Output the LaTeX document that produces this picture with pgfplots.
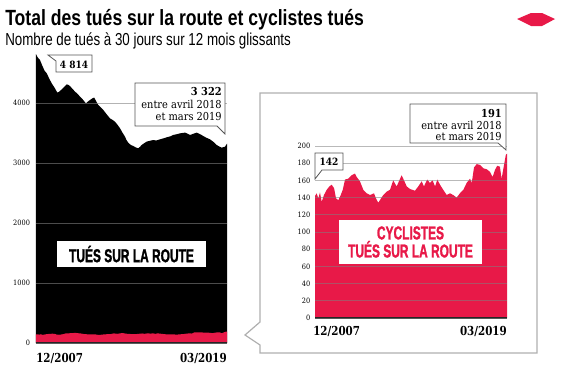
\documentclass[border=0pt]{standalone}
\usepackage{fontspec}
\usepackage{pgfplots}
\pgfplotsset{compat=1.18}
\usepackage{pgfplotstable}
\setmainfont{Liberation Sans}
\newfontfamily\titlefont[FakeStretch=0.80]{Liberation Sans}
\newfontfamily\subfont[FakeStretch=0.77]{Liberation Sans}
\newfontfamily\labfont[FakeStretch=0.64,FakeBold=1.2]{Liberation Sans}
\newfontfamily\serifA[FakeStretch=0.90]{DejaVu Serif}
\newfontfamily\serifB[FakeStretch=0.83]{DejaVu Serif}
\definecolor{lmred}{RGB}{232,25,72}
\definecolor{boxgray}{RGB}{85,85,85}
\definecolor{framegray}{RGB}{175,175,175}

\pgfplotstableread{
m v
0 4814
1.2 4760
2.8 4717
4.5 4620
6 4540
7.6 4494
9.5 4400
11.1 4328
13 4260
15.1 4172
16.5 4190
18.2 4228
20 4270
21.7 4311
23 4300
24 4283
26 4230
27.6 4189
29.5 4150
31.1 4106
33 4060
35.3 3994
37 4030
38.2 4050
40 4080
41.2 4089
42.5 4030
44 3967
46 3920
47.6 3883
50 3810
52.3 3744
54 3720
55.8 3689
57.5 3640
59.4 3578
61 3510
62.9 3439
64 3380
65.2 3339
67 3300
68.8 3283
70.5 3260
72.3 3244
73.5 3270
74.7 3300
76.5 3330
78.2 3356
80.5 3370
82.9 3383
85 3375
87.6 3394
90 3410
92.4 3428
95 3445
97 3467
99.5 3480
101.8 3494
103.5 3500
105.3 3506
107 3490
108.8 3467
111 3485
113.6 3506
116 3480
118.2 3450
120.5 3420
123 3394
125.5 3350
127.7 3300
129.5 3275
131.3 3256
133.6 3272
135 3322
}\totaldata

\pgfplotstableread{
m v
0 142
1.2 145
2.3 139
3.5 146
4.7 135
6.3 143
8.2 149
10.1 153
11.7 155
13.4 151
14.8 139
16.4 137
18.1 143
19.5 149
21.1 161
23.4 162
25.8 166
28.1 168
29.3 164
31.6 159
34 149
36.3 145
38.7 143
41.5 145
42.9 139
44.5 134
46.4 139
48 143
50.4 147
52.7 149
55 160
57.4 153
59.3 160
60.9 166
62.6 160
64.5 153
66.8 150
70.3 148
72.6 153
75 159
76.6 153
78.9 161
80.8 157
82.7 160
84.4 153
86 161
87.9 155
90.2 149
92.6 143
94.9 145
97.2 143
99.6 140
101.9 145
104.3 149
106.6 157
109 162
110.2 157
111.8 175
113.7 179
116 178
118.4 174
120.7 173
123 170
124.9 164
126.5 172
128.1 177
130 176
131.2 162
132.8 177
134.2 190
135 191
}\cycldata

\begin{document}
\begin{tikzpicture}[x=0.75pt,y=0.75pt]
\path[use as bounding box] (0,0) rectangle (564,376);

% Title
\node[anchor=base west, inner sep=0] at (5,350) {\titlefont\bfseries\fontsize{16.5}{18}\selectfont Total des tués sur la route et cyclistes tués};
\node[anchor=base west, inner sep=0] at (5,330) {\subfont\fontsize{13}{14}\selectfont Nombre de tués à 30 jours sur 12 mois glissants};
% logo
\fill[lmred] (517,357) -- (531,363) -- (542,363) -- (555,357) -- (542,350) -- (531,350) -- cycle;

% Left chart
\begin{axis}[
  at={(27pt,24.75pt)}, anchor=south west, scale only axis,
  width=143.25pt, height=218.25pt,
  xmin=0, xmax=135, ymin=0, ymax=4850,
  axis line style={draw=none}, major tick length=0pt,
  xtick=\empty, ytick={0,1000,2000,3000,4000},
  ymajorgrids, grid style={draw=gray, line width=0.5pt, opacity=0.6},
  axis on top,
  /pgf/number format/assume math mode=true,
  /pgf/number format/1000 sep={},
  yticklabel style={font=\serifA\fontsize{5.5}{6}\selectfont, xshift=-1pt},
]
\addplot[fill=black, draw=none] table[x=m,y=v] {\totaldata} \closedcycle;
\addplot[fill=lmred, draw=none] table[x=m,y=v] {\cycldata} \closedcycle;
\draw[line width=0.8pt, black!85] (axis cs:0,0) -- (axis cs:135,0);
\end{axis}

% Right chart
\begin{axis}[
  at={(236.25pt,43.5pt)}, anchor=south west, scale only axis,
  width=144pt, height=129pt,
  xmin=0, xmax=135, ymin=0, ymax=200,
  axis line style={draw=none}, major tick length=0pt,
  xtick=\empty, ytick={0,20,...,200},
  ymajorgrids, grid style={draw=gray, line width=0.5pt, opacity=0.55},
  axis on top,
  /pgf/number format/assume math mode=true,
  yticklabel style={font=\serifA\fontsize{5.5}{6}\selectfont},
]
\addplot[fill=lmred, draw=none] table[x=m,y=v] {\cycldata} \closedcycle;
\draw[line width=0.8pt, black!85] (axis cs:0,0) -- (axis cs:135,0);
\end{axis}

% x labels
\node[anchor=base west, inner sep=0] at (36,14) {\serifB\bfseries\fontsize{9.3}{10}\selectfont 12/2007};
\node[anchor=base east, inner sep=0] at (227,14) {\serifB\bfseries\fontsize{9.3}{10}\selectfont 03/2019};
\node[anchor=base west, inner sep=0] at (313,41) {\serifB\bfseries\fontsize{9.3}{10}\selectfont 12/2007};
\node[anchor=base east, inner sep=0] at (507,41) {\serifB\bfseries\fontsize{9.3}{10}\selectfont 03/2019};

% Right frame
\draw[framegray, line width=0.9pt] (260,283) -- (537,283) -- (537,23) -- (260,23) -- (260,31) -- (245,41) -- (260,54) -- cycle;

% label boxes
\node[fill=white, minimum width=111.75pt, minimum height=19.5pt, inner sep=0, font=\labfont\bfseries\fontsize{14}{15}\selectfont] at (131.5,122) {TUÉS SUR LA ROUTE};
\node[fill=white, minimum width=107.25pt, minimum height=33pt, inner sep=0, align=center, text=lmred, font=\labfont\bfseries\fontsize{14}{11.5}\selectfont] at (410.5,134) {CYCLISTES\\TUÉS SUR LA ROUTE};

% annotation 4 814
\draw[boxgray, fill=white, line width=0.6pt] (48,321) -- (92,321) -- (92,304) -- (56,304) -- (56,315) -- cycle;
\node[anchor=base, inner sep=0] at (74,308) {\serifA\bfseries\fontsize{7.5}{8}\selectfont 4 814};

% annotation 3 322
\draw[boxgray, fill=white, line width=0.6pt] (135,293) -- (225,293) -- (225,242) -- (217,250) -- (135,250) -- cycle;
\node[anchor=base east, inner sep=0] at (222,281) {\serifA\bfseries\fontsize{8.2}{9}\selectfont 3 322};
\node[anchor=base east, inner sep=0] at (222,268) {\serifA\fontsize{8.2}{9}\selectfont entre avril 2018};
\node[anchor=base east, inner sep=0] at (222,256) {\serifA\fontsize{8.2}{9}\selectfont et mars 2019};

% annotation 191
\draw[boxgray, fill=white, line width=0.6pt] (410,272) -- (506,272) -- (506,226) -- (498,233) -- (410,233) -- cycle;
\node[anchor=base east, inner sep=0] at (502,259) {\serifA\bfseries\fontsize{8.2}{9}\selectfont 191};
\node[anchor=base east, inner sep=0] at (502,247) {\serifA\fontsize{8.2}{9}\selectfont entre avril 2018};
\node[anchor=base east, inner sep=0] at (502,236) {\serifA\fontsize{8.2}{9}\selectfont et mars 2019};

% annotation 142
\draw[boxgray, fill=white, line width=0.6pt] (315,223) -- (343,223) -- (343,206) -- (322,206) -- (315,197) -- cycle;
\node[anchor=base, inner sep=0] at (329,211) {\serifA\bfseries\fontsize{7.5}{8}\selectfont 142};
\end{tikzpicture}
\end{document}
